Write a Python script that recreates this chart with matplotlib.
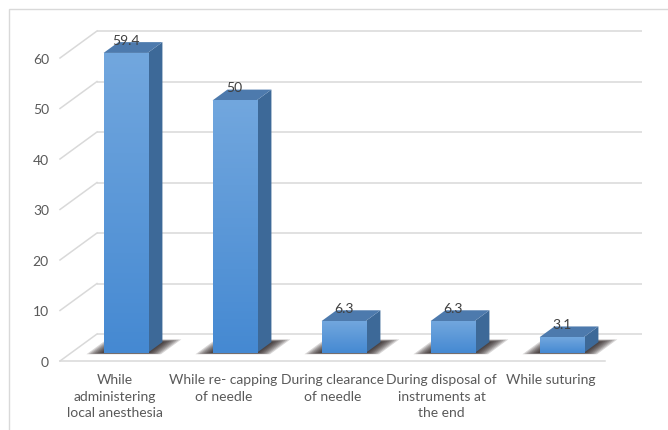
import numpy as np
import matplotlib
matplotlib.use("Agg")
import matplotlib.pyplot as plt
from matplotlib.patches import Polygon, Rectangle
from matplotlib.colors import LinearSegmentedColormap

categories = [
    "While\nadministering\nlocal anesthesia",
    "While re- capping\nof needle",
    "During clearance\nof needle",
    "During disposal of\ninstruments at\nthe end",
    "While suturing",
]
values = [59.4, 50, 6.3, 6.3, 3.1]
value_labels = ["59.4", "50", "6.3", "6.3", "3.1"]
yticks = [0, 10, 20, 30, 40, 50, 60]

W, H = 668, 431
fig = plt.figure(figsize=(W / 100, H / 100), dpi=100)
fig.patch.set_facecolor("white")

# plot area: front edge of the floor / left wall
left_px, right_px, base_px, top_px = 60, 605, 362, 59
ax = fig.add_axes([left_px / W, (H - base_px) / H,
                   (right_px - left_px) / W, (base_px - top_px) / H])
ax.set_xlim(-0.5, len(categories) - 0.5)
ax.set_ylim(0, 60)
for s in ax.spines.values():
    s.set_visible(False)
ax.patch.set_alpha(0)

# oblique depth offset (full depth of the floor) in data units
px_per_cat = (right_px - left_px) / len(categories)
px_per_unit = (base_px - top_px) / 60.0
DX = 37 / px_per_cat
DY = 27 / px_per_unit


def P(x, v, d):
    """Project a point (category x, value v, depth d in [0,1])."""
    return (x + d * DX, v + d * DY)


grid_c = "#d9d9d9"
x0, x1 = -0.5, len(categories) - 0.5

# back wall gridlines and left wall diagonals
for t in yticks:
    a, b = P(x0, t, 1), P(x1, t, 1)
    ax.plot([a[0], b[0]], [a[1], b[1]], color=grid_c, lw=1.1,
            clip_on=False, zorder=1, solid_capstyle="butt")
    c = P(x0, t, 0)
    ax.plot([c[0], a[0]], [c[1], a[1]], color=grid_c, lw=1.1,
            clip_on=False, zorder=1)
# front edge of the floor
a, b = P(x0, 0, 0), P(x1, 0, 0)
ax.plot([a[0], b[0]], [a[1], b[1]], color=grid_c, lw=1.1,
        clip_on=False, zorder=1)

bar_w = 0.404
d_front, d_back = 0.3, 0.7
front_cmap = LinearSegmentedColormap.from_list("front", ["#4589d2", "#72a7de"])
grad = np.linspace(0, 1, 256).reshape(-1, 1)

for i, v in enumerate(values):
    xl, xr = i - bar_w / 2, i + bar_w / 2

    # soft shadow on the floor
    n = 8
    for k in range(n):
        f = 1 - k / n
        gx = 0.14 * f
        gd = 0.10 * f
        pts = [P(xl - gx, 0, d_front - gd * 0.5), P(xr + gx, 0, d_front - gd * 0.5),
               P(xr + gx, 0, d_back + gd), P(xl - gx, 0, d_back + gd)]
        ax.add_patch(Polygon(pts, closed=True, facecolor="#1a1010",
                             edgecolor="none", alpha=0.17, zorder=2,
                             clip_on=False))

    # side face
    side = [P(xr, 0, d_front), P(xr, 0, d_back), P(xr, v, d_back), P(xr, v, d_front)]
    ax.add_patch(Polygon(side, closed=True, facecolor="#3d6998",
                         edgecolor="none", zorder=3, clip_on=False))
    # top face
    top = [P(xl, v, d_front), P(xr, v, d_front), P(xr, v, d_back), P(xl, v, d_back)]
    ax.add_patch(Polygon(top, closed=True, facecolor="#4d7aad",
                         edgecolor="none", zorder=3, clip_on=False))
    # front face with vertical gradient
    fl, fb = P(xl, 0, d_front)
    fr, ft = P(xr, v, d_front)
    ax.imshow(grad, cmap=front_cmap, origin="lower", aspect="auto",
              extent=[fl, fr, fb, ft], zorder=4, interpolation="bilinear",
              clip_on=False)

    # value label above the front face
    lx, ly = P(i, v, d_front)
    ax.annotate(value_labels[i], (lx, ly), xytext=(0, 9.4),
                textcoords="offset points", ha="center", va="center",
                fontsize=10, color="#404040", family="Lato", zorder=6,
                annotation_clip=False)

ax.set_xlim(-0.5, len(categories) - 0.5)
ax.set_ylim(0, 60)

ax.set_yticks(yticks)
ax.set_yticklabels([str(t) for t in yticks], fontsize=10, color="#595959",
                   family="Lato")
ax.set_xticks(range(len(categories)))
ax.set_xticklabels(categories, fontsize=10, color="#595959", family="Lato",
                   linespacing=1.42, va="top")
ax.tick_params(axis="y", length=0, pad=8)
ax.tick_params(axis="x", length=0, pad=9)
for lab in ax.get_xticklabels():
    lab.set_x(lab.get_position()[0] - 0.02)

# outer chart border
fig.add_artist(Rectangle((9 / W, -0.05), 1.2, 1 - 10 / H + 0.05,
                         transform=fig.transFigure, fill=False,
                         edgecolor="#d9d9d9", lw=1.0))

fig.savefig("out.png", dpi=100)
